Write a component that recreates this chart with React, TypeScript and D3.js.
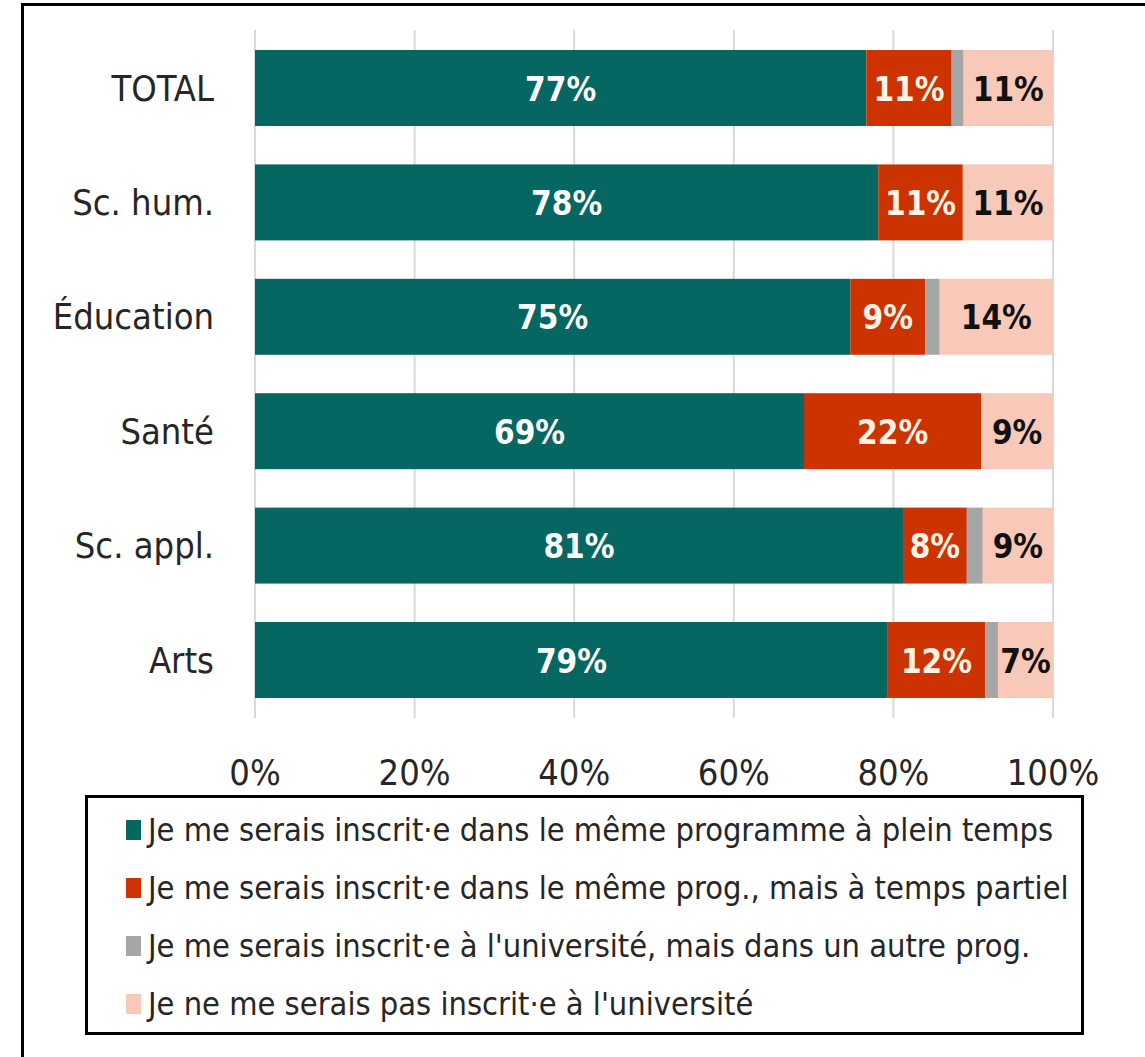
import { useEffect, useRef } from 'react'
import * as d3 from 'd3'

const categories = ['TOTAL', 'Sc. hum.', 'Éducation', 'Santé', 'Sc. appl.', 'Arts']
const seriesNames = [
  'Je me serais inscrit·e dans le même programme à plein temps',
  'Je me serais inscrit·e dans le même prog., mais à temps partiel',
  "Je me serais inscrit·e à l'université, mais dans un autre prog.",
  "Je ne me serais pas inscrit·e à l'université",
]
const fullTime = [76.6, 78.1, 74.6, 68.8, 81.2, 79.3]
const partTime = [10.7, 10.6, 9.4, 22.2, 8.0, 12.2]
const otherProg = [1.5, 0, 1.8, 0, 2.0, 1.6]
const notEnrolled = [11.2, 11.3, 14.2, 9.0, 8.8, 6.9]
const xTicks = [0, 20, 40, 60, 80, 100]

const colors = ['#066662', '#cc3300', '#a6a6a6', '#f8c8b8']
const labelColors = ['#ffffff', '#fff4e6', null, '#111111']

const FONT = "'DejaVu Sans Condensed', 'Liberation Sans Narrow', Arial, sans-serif"

export default function App() {
  const svgRef = useRef<SVGSVGElement>(null)

  useEffect(() => {
    const svg = d3.select(svgRef.current)
    svg.selectAll('*').remove()

    const W = 1145
    const H = 1057
    svg.attr('width', W).attr('height', H)

    svg.append('rect').attr('width', W).attr('height', H).attr('fill', '#fff')

    // outer frame: only the top and left edges are in view
    svg.append('path')
      .attr('d', `M22.5,${H} V4.5 H${W}`)
      .attr('fill', 'none')
      .attr('stroke', '#000')
      .attr('stroke-width', 3)

    const x = d3.scaleLinear().domain([0, 100]).range([255, 1053])
    const y = d3.scaleBand<string>()
      .domain(categories)
      .range([30.8, 717.2])
      .paddingInner(0.336)
      .paddingOuter(0.168)

    // grid
    svg.append('g')
      .selectAll('line')
      .data(xTicks)
      .join('line')
      .attr('x1', (d) => x(d))
      .attr('x2', (d) => x(d))
      .attr('y1', 30)
      .attr('y2', 718)
      .attr('stroke', '#d9d9d9')
      .attr('stroke-width', 2)

    // x tick labels
    svg.append('g')
      .selectAll('text')
      .data(xTicks)
      .join('text')
      .attr('x', (d) => x(d))
      .attr('y', 772)
      .attr('text-anchor', 'middle')
      .attr('dominant-baseline', 'central')
      .attr('fill', '#262626')
      .style('font-family', FONT)
      .style('font-size', '36px')
      .text((d) => `${d}%`)

    // category labels
    svg.append('g')
      .selectAll('text')
      .data(categories)
      .join('text')
      .attr('x', 214)
      .attr('y', (d) => y(d)! + y.bandwidth() / 2)
      .attr('text-anchor', 'end')
      .attr('dominant-baseline', 'central')
      .attr('fill', '#262626')
      .style('font-family', FONT)
      .style('font-size', '36px')
      .text((d) => d)

    // stacked bars
    const series = [fullTime, partTime, otherProg, notEnrolled]
    const rows = categories.map((c, i) => ({
      cat: c,
      s0: series[0][i],
      s1: series[1][i],
      s2: series[2][i],
      s3: series[3][i],
    }))
    const stack = d3.stack<(typeof rows)[number]>().keys(['s0', 's1', 's2', 's3'])
    const layers = stack(rows)

    layers.forEach((layer, li) => {
      const g = svg.append('g')
      g.selectAll('rect')
        .data(layer)
        .join('rect')
        .attr('x', (d) => x(d[0]))
        .attr('width', (d) => x(d[1]) - x(d[0]))
        .attr('y', (d) => y(d.data.cat)!)
        .attr('height', y.bandwidth())
        .attr('fill', colors[li])

      const lc = labelColors[li]
      if (!lc) return
      g.selectAll('text')
        .data(layer)
        .join('text')
        .attr('x', (d) => (x(d[0]) + x(d[1])) / 2)
        .attr('y', (d) => y(d.data.cat)! + y.bandwidth() / 2 + 1)
        .attr('text-anchor', 'middle')
        .attr('dominant-baseline', 'central')
        .attr('fill', lc)
        .style('font-family', FONT)
        .style('font-size', '33px')
        .style('font-weight', 'bold')
        .text((d) => `${Math.round(d[1] - d[0])}%`)
    })

    // legend
    svg.append('rect')
      .attr('x', 86.5)
      .attr('y', 796.5)
      .attr('width', 996)
      .attr('height', 237)
      .attr('fill', '#fff')
      .attr('stroke', '#000')
      .attr('stroke-width', 3)

    const legendY = d3.scalePoint<string>().domain(seriesNames).range([830, 1004])
    const lg = svg.append('g')
    lg.selectAll('rect')
      .data(seriesNames)
      .join('rect')
      .attr('x', 126)
      .attr('y', (d) => legendY(d)! - 10)
      .attr('width', 15)
      .attr('height', 20)
      .attr('fill', (_, i) => colors[i])
    lg.selectAll('text')
      .data(seriesNames)
      .join('text')
      .attr('x', 148)
      .attr('y', (d) => legendY(d)!)
      .attr('dominant-baseline', 'central')
      .attr('fill', '#262626')
      .style('font-family', FONT)
      .style('font-size', '32.3px')
      .text((d) => d)
  }, [])

  return (
    <div style={{ position: 'absolute', left: 0, top: 0 }}>
      <svg ref={svgRef} style={{ display: 'block' }} />
    </div>
  )
}
